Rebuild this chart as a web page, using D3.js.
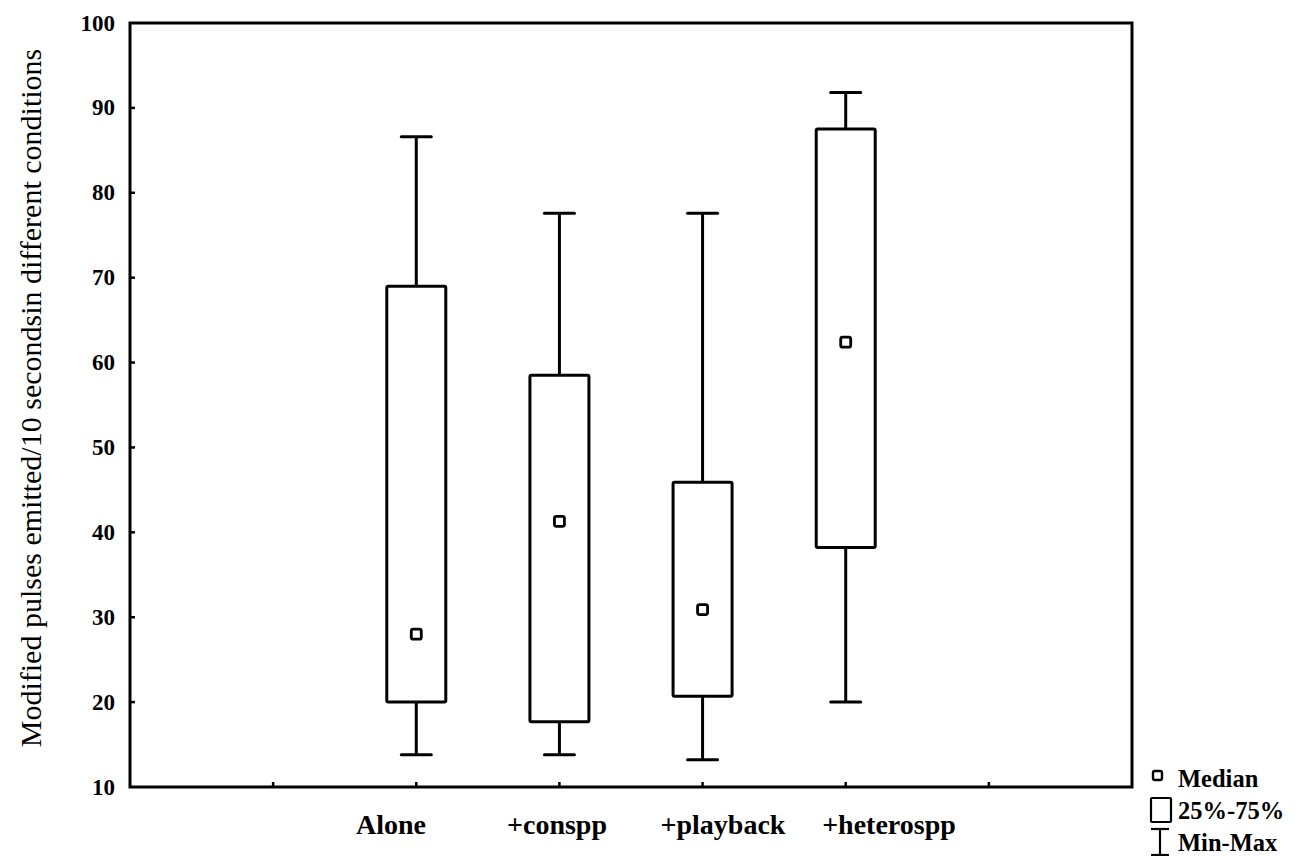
<!DOCTYPE html>
<html>
<head>
<meta charset="utf-8">
<script src="https://cdn.jsdelivr.net/npm/d3@7"></script>
<style>
  body { margin: 0; background: #fff; }
  text { font-family: "Liberation Serif", "DejaVu Serif", "Times New Roman", serif; }
</style>
</head>
<body>
<div id="chart"></div>
<script>
// categories on an 8-slot axis, only the middle four carry data
const slots = ["s0", "s1", "Alone", "+conspp", "+playback", "+heterospp", "s6", "s7"];
const categories = ["Alone", "+conspp", "+playback", "+heterospp"];
const minValues = [13.8, 13.8, 13.2, 20.0];
const q1Values = [20.0, 17.7, 20.7, 38.2];
const medianValues = [28.0, 41.3, 30.9, 62.4];
const q3Values = [69.0, 58.5, 45.9, 87.5];
const maxValues = [86.6, 77.6, 77.6, 91.8];
const yTicks = [10, 20, 30, 40, 50, 60, 70, 80, 90, 100];

const width = 1307, height = 856;
const margin = { top: 23, right: 175, bottom: 69, left: 130 };

const svg = d3.select("#chart").append("svg")
  .attr("width", width)
  .attr("height", height);

const x = d3.scalePoint()
  .domain(slots)
  .range([margin.left, width - margin.right]);

// the category labels sit a little more spread out than the ticks
const xLabel = d3.scalePoint()
  .domain(categories)
  .range([391, 889]);

const y = d3.scaleLinear()
  .domain([10, 100])
  .range([height - margin.bottom, margin.top]);

const boxes = categories.map((c, i) => ({
  name: c, min: minValues[i], q1: q1Values[i], med: medianValues[i], q3: q3Values[i], max: maxValues[i]
}));

// frame
svg.append("rect")
  .attr("x", x.range()[0])
  .attr("y", y(100))
  .attr("width", x.range()[1] - x.range()[0])
  .attr("height", y(10) - y(100))
  .attr("fill", "none")
  .attr("stroke", "#000")
  .attr("stroke-width", 3);

// y axis ticks (inward)
const yAxis = svg.append("g");
yAxis.selectAll("line").data(yTicks.slice(1, -1)).enter().append("line")
  .attr("x1", x.range()[0]).attr("x2", x.range()[0] + 5)
  .attr("y1", d => y(d)).attr("y2", d => y(d))
  .attr("stroke", "#000").attr("stroke-width", 2.5);
yAxis.selectAll("text").data(yTicks).enter().append("text")
  .attr("x", x.range()[0] - 15)
  .attr("y", d => y(d))
  .attr("dy", "0.33em")
  .attr("text-anchor", "end")
  .attr("font-size", 23)
  .attr("font-weight", "bold")
  .text(d => d);

// x axis ticks (inward)
const xAxis = svg.append("g");
xAxis.selectAll("line").data(slots.slice(1, -1)).enter().append("line")
  .attr("x1", d => x(d)).attr("x2", d => x(d))
  .attr("y1", y(10)).attr("y2", y(10) - 5)
  .attr("stroke", "#000").attr("stroke-width", 2.5);
xAxis.selectAll("text").data(categories).enter().append("text")
  .attr("x", d => xLabel(d))
  .attr("y", y(10) + 47)
  .attr("text-anchor", "middle")
  .attr("font-size", 28)
  .attr("font-weight", "bold")
  .text(d => d);

// y label
svg.append("text")
  .attr("transform", `translate(41, 398) rotate(-90)`)
  .attr("text-anchor", "middle")
  .attr("font-size", 30)
  .text("Modified pulses emitted/10 secondsin different conditions");

// boxes
const boxW = 59, capW = 30;
const g = svg.append("g").attr("stroke", "#000").attr("stroke-width", 3).attr("fill", "none");

g.selectAll(".whisk-up").data(boxes).enter().append("line")
  .attr("x1", d => x(d.name)).attr("x2", d => x(d.name))
  .attr("y1", d => y(d.q3)).attr("y2", d => y(d.max));
g.selectAll(".whisk-down").data(boxes).enter().append("line")
  .attr("x1", d => x(d.name)).attr("x2", d => x(d.name))
  .attr("y1", d => y(d.q1)).attr("y2", d => y(d.min));
g.selectAll(".cap-max").data(boxes).enter().append("line")
  .attr("x1", d => x(d.name) - capW / 2).attr("x2", d => x(d.name) + capW / 2)
  .attr("y1", d => y(d.max)).attr("y2", d => y(d.max))
  .attr("stroke-linecap", "round");
g.selectAll(".cap-min").data(boxes).enter().append("line")
  .attr("x1", d => x(d.name) - capW / 2).attr("x2", d => x(d.name) + capW / 2)
  .attr("y1", d => y(d.min)).attr("y2", d => y(d.min))
  .attr("stroke-linecap", "round");
g.selectAll(".box").data(boxes).enter().append("rect")
  .attr("x", d => x(d.name) - boxW / 2)
  .attr("y", d => y(d.q3))
  .attr("width", boxW)
  .attr("height", d => y(d.q1) - y(d.q3))
  .attr("rx", 1.5)
  .attr("fill", "#fff");
g.selectAll(".med").data(boxes).enter().append("rect")
  .attr("x", d => x(d.name) - 5)
  .attr("y", d => y(d.med) - 5)
  .attr("width", 10).attr("height", 10)
  .attr("rx", 2)
  .attr("stroke-width", 2.8);

// legend
const lx = 1160;
const leg = svg.append("g");
leg.append("rect").attr("x", lx - 7).attr("y", 771).attr("width", 9).attr("height", 9).attr("rx", 2)
  .attr("fill", "none").attr("stroke", "#000").attr("stroke-width", 2.4);
leg.append("rect").attr("x", lx - 9).attr("y", 798).attr("width", 20).attr("height", 24).attr("rx", 1)
  .attr("fill", "none").attr("stroke", "#000").attr("stroke-width", 2.2);
leg.append("line").attr("x1", lx).attr("x2", lx).attr("y1", 829).attr("y2", 856)
  .attr("stroke", "#000").attr("stroke-width", 2.2);
leg.append("line").attr("x1", lx - 9).attr("x2", lx + 9).attr("y1", 829).attr("y2", 829)
  .attr("stroke", "#000").attr("stroke-width", 2.2);
leg.append("line").attr("x1", lx - 9).attr("x2", lx + 9).attr("y1", 855).attr("y2", 855)
  .attr("stroke", "#000").attr("stroke-width", 2.2);
const legendLabels = ["Median", "25%-75%", "Min-Max"];
leg.selectAll("text").data(legendLabels).enter().append("text")
  .attr("x", lx + 18)
  .attr("y", (d, i) => 787 + i * 32)
  .attr("font-size", 24.5)
  .attr("font-weight", "bold")
  .text(d => d);
</script>
</body>
</html>
